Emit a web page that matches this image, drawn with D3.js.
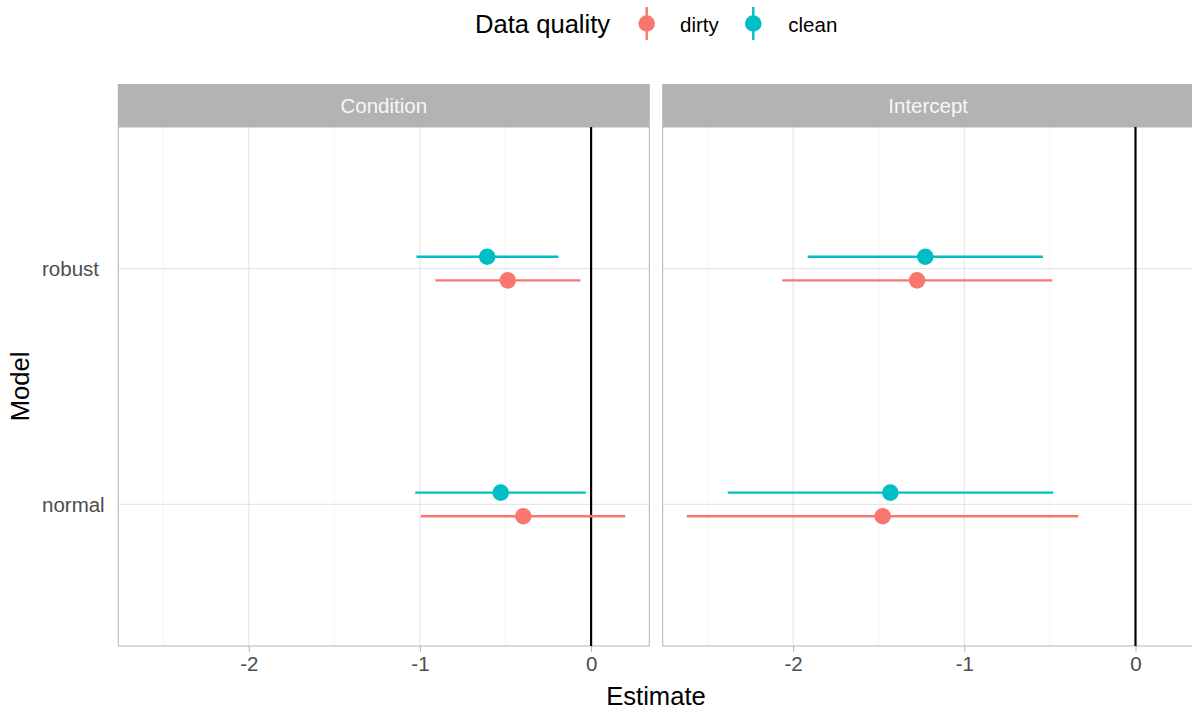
<!DOCTYPE html>
<html>
<head>
<meta charset="utf-8">
<script src="https://cdn.jsdelivr.net/npm/d3@7"></script>
<style>
  html, body { margin: 0; padding: 0; background: #fff; }
  svg { display: block; font-family: "Liberation Sans", Arial, Helvetica, sans-serif; }
</style>
</head>
<body>
<svg id="chart" width="1192" height="711"></svg>
<script>
// ---- data ----
const terms = ["Condition", "Intercept"];
const models = ["robust", "normal"];
const qualities = ["dirty", "clean"];
const qualityColors = ["#F8766D", "#00BFC4"];
const xTicks = [-2, -1, 0];
const xMinorTicks = [-2.5, -1.5, -0.5];

// values per model in order [robust, normal]
const conditionDirtyEst = [-0.487, -0.396];
const conditionDirtyLo  = [-0.910, -0.994];
const conditionDirtyHi  = [-0.062, 0.199];
const conditionCleanEst = [-0.607, -0.528];
const conditionCleanLo  = [-1.020, -1.027];
const conditionCleanHi  = [-0.191, -0.031];
const interceptDirtyEst = [-1.276, -1.477];
const interceptDirtyLo  = [-2.064, -2.621];
const interceptDirtyHi  = [-0.486, -0.334];
const interceptCleanEst = [-1.228, -1.432];
const interceptCleanLo  = [-1.915, -2.382];
const interceptCleanHi  = [-0.541, -0.480];

const series = {
  Condition: {
    dirty: [conditionDirtyEst, conditionDirtyLo, conditionDirtyHi],
    clean: [conditionCleanEst, conditionCleanLo, conditionCleanHi]
  },
  Intercept: {
    dirty: [interceptDirtyEst, interceptDirtyLo, interceptDirtyHi],
    clean: [interceptCleanEst, interceptCleanLo, interceptCleanHi]
  }
};

const rows = [];
terms.forEach(t => qualities.forEach(q => models.forEach((m, i) => {
  const [e, lo, hi] = series[t][q];
  rows.push({term: t, quality: q, model: m, est: e[i], lo: lo[i], hi: hi[i]});
})));

// ---- layout ----
const svg = d3.select("#chart");
const panelTop = 127, panelBottom = 646;
const stripTop = 84;
const panels = [{x0: 118.3, x1: 649.3}, {x0: 662.7, x1: 1193.7}];

const allLo = d3.min(rows, d => d.lo), allHi = d3.max(rows, d => d.hi);
const pad = (allHi - allLo) * 0.05;
const domain = [allLo - pad, allHi + pad];

const y = d3.scalePoint().domain(models).range([panelTop, panelBottom]).padding(0.6);
const dodge = y.step() * 0.05;
const color = d3.scaleOrdinal().domain(qualities).range(qualityColors);
const dodgeOffset = {clean: -dodge, dirty: dodge};

const textCol = "#4d4d4d";

terms.forEach((term, pi) => {
  const p = panels[pi];
  const x = d3.scaleLinear().domain(domain).range([p.x0, p.x1]);
  const g = svg.append("g");

  // minor grid
  g.selectAll(".minor").data(xMinorTicks).join("line")
    .attr("x1", d => x(d)).attr("x2", d => x(d))
    .attr("y1", panelTop).attr("y2", panelBottom)
    .attr("stroke", "#ebebeb").attr("stroke-width", 0.6);
  // major grid
  g.selectAll(".major").data(xTicks).join("line")
    .attr("x1", d => x(d)).attr("x2", d => x(d))
    .attr("y1", panelTop).attr("y2", panelBottom)
    .attr("stroke", "#e6e6e6").attr("stroke-width", 1.2);
  g.selectAll(".hmajor").data(models).join("line")
    .attr("x1", p.x0).attr("x2", p.x1)
    .attr("y1", d => y(d)).attr("y2", d => y(d))
    .attr("stroke", "#e6e6e6").attr("stroke-width", 1.2);

  // panel border
  g.append("rect")
    .attr("x", p.x0).attr("y", panelTop)
    .attr("width", p.x1 - p.x0).attr("height", panelBottom - panelTop)
    .attr("fill", "none").attr("stroke", "#b3b3b3").attr("stroke-width", 1);

  // strip
  g.append("rect")
    .attr("x", p.x0 - 0.5).attr("y", stripTop)
    .attr("width", p.x1 - p.x0 + 1).attr("height", panelTop - stripTop)
    .attr("fill", "#b3b3b3");
  g.append("text")
    .attr("x", (p.x0 + p.x1) / 2).attr("y", (stripTop + panelTop) / 2)
    .attr("dy", "0.36em").attr("text-anchor", "middle")
    .attr("font-size", 20.5).attr("fill", "#f7f7f7")
    .text(term);

  // zero line
  g.append("line")
    .attr("x1", x(0)).attr("x2", x(0))
    .attr("y1", panelTop).attr("y2", panelBottom)
    .attr("stroke", "#000").attr("stroke-width", 2.2);

  // x axis
  const ax = d3.axisBottom(x).tickValues(xTicks).tickSize(6).tickPadding(4).tickFormat(d3.format("d"));
  const axg = g.append("g").attr("transform", `translate(0,${panelBottom})`).call(ax);
  axg.select(".domain").remove();
  axg.selectAll(".tick line").attr("stroke", "#b3b3b3").attr("stroke-width", 1);
  axg.selectAll(".tick text")
    .attr("font-size", 20.5).attr("fill", textCol)
    .attr("font-family", "Liberation Sans, Arial, sans-serif")
    .text(d => d < 0 ? "-" + Math.abs(d) : String(d));

  // point ranges
  const pr = rows.filter(r => r.term === term);
  g.selectAll(".range").data(pr).join("line")
    .attr("x1", d => x(d.lo)).attr("x2", d => x(d.hi))
    .attr("y1", d => y(d.model) + dodgeOffset[d.quality])
    .attr("y2", d => y(d.model) + dodgeOffset[d.quality])
    .attr("stroke", d => color(d.quality)).attr("stroke-width", 2.4);
  g.selectAll(".pt").data(pr).join("circle")
    .attr("cx", d => x(d.est))
    .attr("cy", d => y(d.model) + dodgeOffset[d.quality])
    .attr("r", 8.3)
    .attr("fill", d => color(d.quality));
});

// y axis labels (left-aligned as in the reference)
const ya = d3.axisLeft(y).tickSize(0).tickPadding(0);
const yag = svg.append("g").attr("transform", `translate(${panels[0].x0},0)`).call(ya);
yag.select(".domain").remove();
yag.selectAll(".tick text")
  .attr("text-anchor", "start")
  .attr("x", 42 - panels[0].x0)
  .attr("font-size", 20.5).attr("fill", textCol)
  .attr("font-family", "Liberation Sans, Arial, sans-serif");

// axis titles
svg.append("text")
  .attr("x", (panels[0].x0 + panels[1].x1) / 2).attr("y", 705)
  .attr("text-anchor", "middle").attr("font-size", 25.6).attr("fill", "#000")
  .text("Estimate");
svg.append("text")
  .attr("transform", `translate(29,${(panelTop + panelBottom) / 2}) rotate(-90)`)
  .attr("text-anchor", "middle").attr("font-size", 25.6).attr("fill", "#000")
  .text("Model");

// legend
const lg = svg.append("g");
lg.append("text").attr("x", 475).attr("y", 33)
  .attr("font-size", 25.6).attr("fill", "#000").text("Data quality");
const keyX = [646.7, 753.3];
const labX = [680, 788.3];
qualities.forEach((q, i) => {
  lg.append("line")
    .attr("x1", keyX[i]).attr("x2", keyX[i]).attr("y1", 7).attr("y2", 40)
    .attr("stroke", color(q)).attr("stroke-width", 2.4);
  lg.append("circle").attr("cx", keyX[i]).attr("cy", 23.5).attr("r", 8.3).attr("fill", color(q));
  lg.append("text").attr("x", labX[i]).attr("y", 32.3)
    .attr("font-size", 20.5).attr("fill", "#000").text(q);
});
</script>
</body>
</html>
